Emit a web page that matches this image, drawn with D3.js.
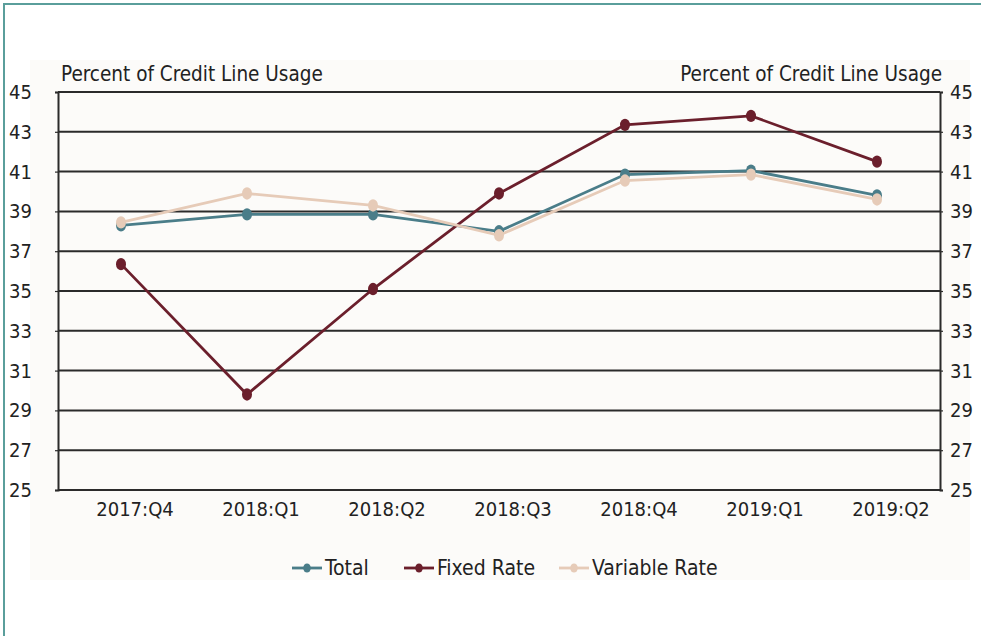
<!DOCTYPE html>
<html><head><meta charset="utf-8">
<script src="https://cdn.jsdelivr.net/npm/d3@7"></script>
<style>body{margin:0;background:#fff}svg{display:block}text{font-family:"DejaVu Sans Condensed","Liberation Sans",sans-serif;fill:#222}</style>
</head><body><svg id="c" width="981" height="636"></svg>
<script>
const categories = ["2017:Q4","2018:Q1","2018:Q2","2018:Q3","2018:Q4","2019:Q1","2019:Q2"];
const totalValues = [38.3, 38.85, 38.85, 38.0, 40.85, 41.05, 39.8];
const fixedValues = [36.35, 29.8, 35.1, 39.9, 43.35, 43.8, 41.5];
const variableValues = [38.45, 39.9, 39.3, 37.8, 40.55, 40.85, 39.6];
const yTicks = [25,27,29,31,33,35,37,39,41,43,45];
const seriesNames = ["Total","Fixed Rate","Variable Rate"];
const seriesColors = ["#4a7d89","#6b1f2c","#e6cbb8"];
const axisTitle = "Percent of Credit Line Usage";

const series = [totalValues, fixedValues, variableValues].map((v,i)=>({name:seriesNames[i], color:seriesColors[i], values:v}));

const svg = d3.select("#c");
// frame
svg.append("rect").attr("x",30).attr("y",60).attr("width",940).attr("height",520).attr("fill","#fcfbf9");
svg.append("path").attr("d","M4,636 V4 H981").attr("fill","none").attr("stroke","#5a9e9b").attr("stroke-width",2);

const m = {l:58, r:940, t:92, b:490};
const x = d3.scaleBand().domain(categories).range([m.l, m.r]);
const y = d3.scaleLinear().domain([25,45]).range([m.b, m.t]);

// gridlines
svg.append("g").selectAll("line").data(yTicks).join("line")
  .attr("x1",m.l).attr("x2",m.r).attr("y1",d=>y(d)).attr("y2",d=>y(d))
  .attr("stroke","#2b2b2b").attr("stroke-width",2);

const la = svg.append("g").attr("transform",`translate(${m.l},0)`).call(d3.axisLeft(y).tickValues(yTicks).tickSize(3).tickPadding(23));
const ra = svg.append("g").attr("transform",`translate(${m.r},0)`).call(d3.axisRight(y).tickValues(yTicks).tickSize(3).tickPadding(7));
[la,ra].forEach(g=>{
  g.select(".domain").attr("stroke","#2b2b2b").attr("stroke-width",2);
  g.selectAll(".tick line").attr("stroke","#2b2b2b").attr("stroke-width",1.2);
  g.selectAll("text").attr("font-size",20).attr("fill","#222").attr("font-family",null);
});
la.selectAll("text").attr("text-anchor","end");

const xa = svg.append("g").attr("transform",`translate(0,${m.b})`).call(d3.axisBottom(x).tickSize(0).tickPadding(12));
xa.select(".domain").remove();
xa.selectAll("text").attr("font-size",20).attr("fill","#222").attr("font-family",null).attr("dx",14);

svg.append("text").attr("x",61).attr("y",81).attr("font-size",20.5).text(axisTitle);
svg.append("text").attr("x",942).attr("y",81).attr("font-size",20.5).attr("text-anchor","end").text(axisTitle);

const cx = c => x(c) + x.bandwidth()/2;
const line = d3.line().x((d,i)=>cx(categories[i])).y(d=>y(d));

// draw order: total, fixed, variable
series.forEach(s=>{
  const g = svg.append("g");
  g.append("path").attr("d",line(s.values)).attr("fill","none").attr("stroke",s.color).attr("stroke-width",2.8);
  g.selectAll("ellipse").data(s.values).join("ellipse")
    .attr("cx",(d,i)=>cx(categories[i])).attr("cy",d=>y(d)).attr("rx",5).attr("ry",6.2).attr("fill",s.color);
});

// legend
const legX = [292, 404, 559];
const lg = svg.append("g");
series.forEach((s,i)=>{
  const g = lg.append("g").attr("transform",`translate(${legX[i]},568)`);
  g.append("line").attr("x1",0).attr("x2",30).attr("stroke",s.color).attr("stroke-width",2.8);
  g.append("ellipse").attr("cx",15).attr("rx",3.8).attr("ry",4.5).attr("fill",s.color);
  g.append("text").attr("x",33).attr("y",7).attr("font-size",21).text(s.name);
});
</script></body></html>
